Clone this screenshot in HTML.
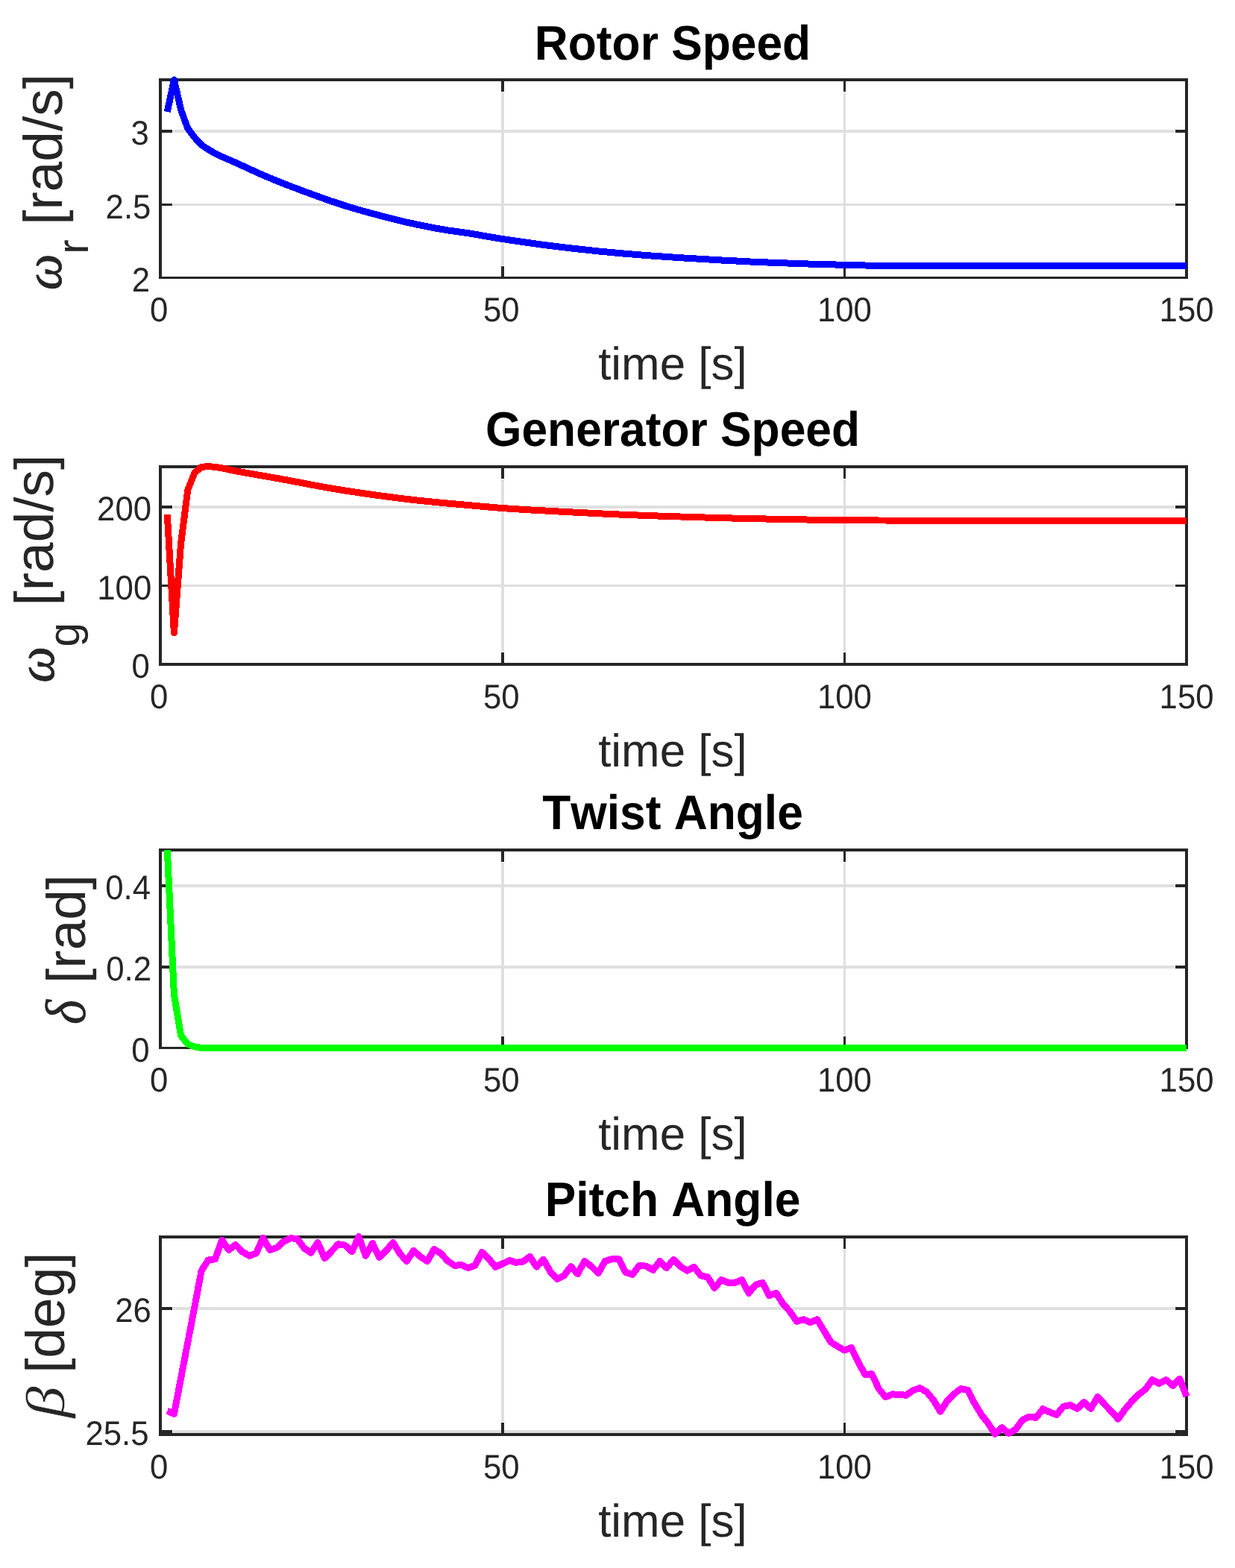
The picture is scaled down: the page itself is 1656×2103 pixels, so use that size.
<!DOCTYPE html>
<html lang="en">
<head>
<meta charset="utf-8">
<title>Wind turbine simulation</title>
<style>
html,body{margin:0;padding:0;background:#ffffff;}
body{width:1656px;height:2103px;overflow:hidden;}
svg{display:block;text-rendering:geometricPrecision;font-kerning:none;}
.t{font-family:'Liberation Sans', sans-serif;font-weight:bold;font-size:62.3px;fill:#000000;text-anchor:middle;}
.k{font-family:'Liberation Sans', sans-serif;font-size:43.75px;fill:#262626;}
.xl{font-family:'Liberation Sans', sans-serif;font-size:61.9px;fill:#262626;text-anchor:middle;}
.yl{font-family:'Liberation Sans', sans-serif;font-size:73.0px;fill:#262626;}
.ys{font-family:'Liberation Sans', sans-serif;font-size:58.5px;fill:#262626;}
.ym{font-family:'Liberation Serif', 'DejaVu Serif', serif;font-style:italic;font-size:73.5px;fill:#262626;}
.g{fill:#dfdfdf;}
.a{fill:#262626;}
.c{fill:none;stroke-width:9;stroke-linejoin:round;stroke-linecap:butt;}
</style>
</head>
<body>
<svg width="1656" height="2103" viewBox="0 0 1656 2103">
<rect x="0" y="0" width="1656" height="2103" fill="#ffffff"/>

<g id="plot1">
<g shape-rendering="crispEdges">
<rect class="g" x="672" y="124" width="4" height="232"/>
<rect class="g" x="1131" y="124" width="3" height="232"/>
<rect class="g" x="232" y="174" width="1343" height="4"/>
<rect class="g" x="232" y="273" width="1343" height="3"/>
<rect class="a" x="213" y="105" width="1380" height="4"/>
<rect class="a" x="213" y="371" width="1380" height="3"/>
<rect class="a" x="213" y="105" width="4" height="269"/>
<rect class="a" x="1589" y="105" width="4" height="269"/>
<rect class="a" x="672" y="105" width="4" height="18"/>
<rect class="a" x="672" y="357" width="4" height="17"/>
<rect class="a" x="1131" y="105" width="3" height="18"/>
<rect class="a" x="1131" y="357" width="3" height="17"/>
<rect class="a" x="213" y="174" width="18" height="4"/>
<rect class="a" x="1576" y="174" width="17" height="4"/>
<rect class="a" x="213" y="273" width="18" height="3"/>
<rect class="a" x="1576" y="273" width="17" height="3"/>
</g>
<polyline class="c" shape-rendering="crispEdges" stroke="#0000ff" points="224.3,150.0 233.4,107.0 242.6,147.3 251.8,172.4 261.0,184.5 270.1,194.5 279.3,200.4 288.5,205.9 297.7,210.2 306.8,214.1 316.0,218.2 325.2,222.4 334.4,226.6 343.5,230.8 352.7,234.9 361.9,238.8 371.0,242.5 380.2,246.2 389.4,249.8 398.6,253.2 407.7,256.7 416.9,260.0 426.1,263.4 435.3,266.7 444.4,269.9 453.6,272.9 462.8,275.9 472.0,278.7 481.1,281.4 490.3,284.0 499.5,286.5 508.6,288.9 517.8,291.3 527.0,293.6 536.2,295.9 545.3,298.1 554.5,300.1 563.7,302.1 572.9,303.9 582.0,305.7 591.2,307.3 600.4,308.9 609.6,310.2 618.7,311.4 627.9,312.8 637.1,314.3 646.2,315.9 655.4,317.5 664.6,319.0 673.8,320.5 682.9,321.9 692.1,323.2 701.3,324.6 710.5,325.9 719.6,327.2 728.8,328.4 738.0,329.6 747.2,330.7 756.3,331.8 765.5,332.9 774.7,333.9 783.8,334.9 793.0,335.9 802.2,336.9 811.4,337.8 820.5,338.6 829.7,339.5 838.9,340.3 848.1,341.0 857.2,341.8 866.4,342.5 875.6,343.2 884.8,343.8 893.9,344.5 903.1,345.1 912.3,345.7 921.4,346.3 930.6,346.8 939.8,347.4 949.0,347.9 958.1,348.4 967.3,349.0 976.5,349.5 985.7,349.9 994.8,350.4 1004.0,350.9 1013.2,351.3 1022.4,351.7 1031.5,352.1 1040.7,352.4 1049.9,352.8 1059.0,353.1 1068.2,353.5 1077.4,353.8 1086.6,354.1 1095.7,354.3 1104.9,354.6 1114.1,354.8 1123.3,355.1 1132.4,355.3 1141.6,355.5 1150.8,355.8 1160.0,356.0 1169.1,356.2 1178.3,356.3 1187.5,356.3 1196.6,356.4 1205.8,356.4 1215.0,356.5 1224.2,356.5 1233.3,356.5 1242.5,356.5 1251.7,356.5 1260.9,356.5 1270.0,356.5 1279.2,356.5 1288.4,356.5 1297.6,356.5 1306.7,356.5 1315.9,356.5 1325.1,356.5 1334.2,356.5 1343.4,356.5 1352.6,356.5 1361.8,356.5 1370.9,356.5 1380.1,356.5 1389.3,356.5 1398.5,356.5 1407.6,356.5 1416.8,356.5 1426.0,356.5 1435.2,356.5 1444.3,356.5 1453.5,356.5 1462.7,356.5 1471.8,356.5 1481.0,356.5 1490.2,356.5 1499.4,356.5 1508.5,356.5 1517.7,356.5 1526.9,356.5 1536.1,356.5 1545.2,356.5 1554.4,356.5 1563.6,356.5 1572.8,356.5 1581.9,356.5 1591.1,356.5"/>
<text class="t" id="title1" transform="translate(902 79.8) scale(1 1.046)">Rotor Speed</text>
<text class="k" id="xt1_0" text-anchor="middle" transform="translate(213.2 431.3) scale(1 1.045)">0</text>
<text class="k" id="xt1_50" text-anchor="middle" transform="translate(672.27 431.3) scale(1 1.045)">50</text>
<text class="k" id="xt1_100" text-anchor="middle" transform="translate(1132.43 431.3) scale(1 1.045)">100</text>
<text class="k" id="xt1_150" text-anchor="middle" transform="translate(1591.1 431.3) scale(1 1.045)">150</text>
<text class="k" id="yt1_0" text-anchor="end" transform="translate(199.8 194.3) scale(1 1.045)">3</text>
<text class="k" id="yt1_1" text-anchor="end" transform="translate(202.4 292.5) scale(1 1.045)">2.5</text>
<text class="k" id="yt1_2" text-anchor="end" transform="translate(201 390.7) scale(1 1.045)">2</text>
<text class="xl" id="xl1" x="901.9" y="509.3">time [s]</text>
<text class="ym" id="sym1" stroke="#262626" stroke-width="0.9" transform="translate(82.33 389.05) rotate(-90) scale(0.93 0.965)">ω</text>
<text class="ys" id="sub1" transform="translate(117.75 340.85) rotate(-90)">r</text>
<text class="yl" id="unit1" transform="translate(82.51 301.85) rotate(-90)">[rad/s]</text>
</g>
</g>
<g id="plot2">
<g shape-rendering="crispEdges">
<rect class="g" x="672" y="643" width="4" height="231"/>
<rect class="g" x="1131" y="643" width="3" height="231"/>
<rect class="g" x="232" y="678" width="1343" height="4"/>
<rect class="g" x="232" y="784" width="1343" height="3"/>
<rect class="a" x="213" y="624" width="1380" height="4"/>
<rect class="a" x="213" y="889" width="1380" height="4"/>
<rect class="a" x="213" y="624" width="4" height="269"/>
<rect class="a" x="1589" y="624" width="4" height="269"/>
<rect class="a" x="672" y="624" width="4" height="18"/>
<rect class="a" x="672" y="875" width="4" height="18"/>
<rect class="a" x="1131" y="624" width="3" height="18"/>
<rect class="a" x="1131" y="875" width="3" height="18"/>
<rect class="a" x="213" y="678" width="18" height="4"/>
<rect class="a" x="1576" y="678" width="17" height="4"/>
<rect class="a" x="213" y="784" width="18" height="3"/>
<rect class="a" x="1576" y="784" width="17" height="3"/>
</g>
<polyline class="c" shape-rendering="crispEdges" stroke="#ff0000" points="224.3,690.0 233.4,849.0 242.6,728.7 251.8,657.0 261.0,634.1 270.1,626.3 279.3,625.7 288.5,626.3 297.7,627.8 306.8,629.8 316.0,631.8 325.2,633.4 334.4,635.0 343.5,636.6 352.7,638.2 361.9,639.8 371.0,641.4 380.2,643.1 389.4,644.8 398.6,646.5 407.7,648.3 416.9,650.0 426.1,651.8 435.3,653.4 444.4,655.0 453.6,656.5 462.8,658.0 472.0,659.4 481.1,660.8 490.3,662.1 499.5,663.4 508.6,664.7 517.8,665.9 527.0,667.1 536.2,668.3 545.3,669.4 554.5,670.5 563.7,671.5 572.9,672.4 582.0,673.3 591.2,674.2 600.4,675.1 609.6,675.9 618.7,676.7 627.9,677.5 637.1,678.4 646.2,679.2 655.4,680.0 664.6,680.8 673.8,681.5 682.9,682.2 692.1,682.8 701.3,683.3 710.5,683.9 719.6,684.4 728.8,684.9 738.0,685.4 747.2,685.9 756.3,686.4 765.5,686.9 774.7,687.3 783.8,687.8 793.0,688.3 802.2,688.7 811.4,689.2 820.5,689.6 829.7,690.0 838.9,690.3 848.1,690.7 857.2,691.1 866.4,691.4 875.6,691.8 884.8,692.1 893.9,692.4 903.1,692.7 912.3,693.0 921.4,693.3 930.6,693.6 939.8,693.9 949.0,694.1 958.1,694.4 967.3,694.6 976.5,694.9 985.7,695.1 994.8,695.3 1004.0,695.5 1013.2,695.7 1022.4,695.9 1031.5,696.1 1040.7,696.3 1049.9,696.4 1059.0,696.6 1068.2,696.8 1077.4,696.9 1086.6,697.1 1095.7,697.2 1104.9,697.3 1114.1,697.4 1123.3,697.5 1132.4,697.6 1141.6,697.7 1150.8,697.7 1160.0,697.8 1169.1,697.9 1178.3,698.0 1187.5,698.0 1196.6,698.1 1205.8,698.1 1215.0,698.2 1224.2,698.2 1233.3,698.2 1242.5,698.2 1251.7,698.2 1260.9,698.2 1270.0,698.2 1279.2,698.2 1288.4,698.2 1297.6,698.2 1306.7,698.2 1315.9,698.2 1325.1,698.2 1334.2,698.3 1343.4,698.3 1352.6,698.3 1361.8,698.3 1370.9,698.3 1380.1,698.3 1389.3,698.3 1398.5,698.3 1407.6,698.3 1416.8,698.3 1426.0,698.3 1435.2,698.3 1444.3,698.3 1453.5,698.3 1462.7,698.3 1471.8,698.3 1481.0,698.3 1490.2,698.3 1499.4,698.3 1508.5,698.3 1517.7,698.3 1526.9,698.3 1536.1,698.3 1545.2,698.3 1554.4,698.3 1563.6,698.3 1572.8,698.3 1581.9,698.3 1591.1,698.3"/>
<text class="t" id="title2" transform="translate(902 597.8) scale(1 1.046)">Generator Speed</text>
<text class="k" id="xt2_0" text-anchor="middle" transform="translate(213.2 949.8) scale(1 1.045)">0</text>
<text class="k" id="xt2_50" text-anchor="middle" transform="translate(672.27 949.8) scale(1 1.045)">50</text>
<text class="k" id="xt2_100" text-anchor="middle" transform="translate(1132.43 949.8) scale(1 1.045)">100</text>
<text class="k" id="xt2_150" text-anchor="middle" transform="translate(1591.1 949.8) scale(1 1.045)">150</text>
<text class="k" id="yt2_0" text-anchor="end" transform="translate(203.1 698.2) scale(1 1.045)">200</text>
<text class="k" id="yt2_1" text-anchor="end" transform="translate(203.25 803.8) scale(1 1.045)">100</text>
<text class="k" id="yt2_2" text-anchor="end" transform="translate(200.8 909.2) scale(1 1.045)">0</text>
<text class="xl" id="xl2" x="901.9" y="1027.8">time [s]</text>
<text class="ym" id="sym2" stroke="#262626" stroke-width="0.9" transform="translate(71.99 915.59) rotate(-90) scale(0.93 0.965)">ω</text>
<text class="ys" id="sub2" transform="translate(106.02 867.54) rotate(-90)">g</text>
<text class="yl" id="unit2" transform="translate(70.96 812.5) rotate(-90)">[rad/s]</text>
</g>
</g>
<g id="plot3">
<g shape-rendering="crispEdges">
<rect class="g" x="672" y="1157" width="4" height="232"/>
<rect class="g" x="1131" y="1157" width="3" height="232"/>
<rect class="g" x="232" y="1186" width="1343" height="4"/>
<rect class="g" x="232" y="1295" width="1343" height="4"/>
<rect class="a" x="213" y="1138" width="1380" height="4"/>
<rect class="a" x="213" y="1404" width="1380" height="3"/>
<rect class="a" x="213" y="1138" width="4" height="269"/>
<rect class="a" x="1589" y="1138" width="4" height="269"/>
<rect class="a" x="672" y="1138" width="4" height="18"/>
<rect class="a" x="672" y="1390" width="4" height="17"/>
<rect class="a" x="1131" y="1138" width="3" height="18"/>
<rect class="a" x="1131" y="1390" width="3" height="17"/>
<rect class="a" x="213" y="1186" width="18" height="4"/>
<rect class="a" x="1576" y="1186" width="17" height="4"/>
<rect class="a" x="213" y="1295" width="18" height="4"/>
<rect class="a" x="1576" y="1295" width="17" height="4"/>
</g>
<polyline class="c" shape-rendering="crispEdges" stroke="#00ff00" points="224.3,1140.0 233.4,1333.4 242.6,1389.0 251.8,1400.4 261.0,1404.0 270.1,1405.4 279.3,1405.5 288.5,1405.5 297.7,1405.5 306.8,1405.5 316.0,1405.5 325.2,1405.5 334.4,1405.5 343.5,1405.5 352.7,1405.5 361.9,1405.5 371.0,1405.5 380.2,1405.5 389.4,1405.5 398.6,1405.5 407.7,1405.5 416.9,1405.5 426.1,1405.5 435.3,1405.5 444.4,1405.5 453.6,1405.5 462.8,1405.5 472.0,1405.5 481.1,1405.5 490.3,1405.5 499.5,1405.5 508.6,1405.5 517.8,1405.5 527.0,1405.5 536.2,1405.5 545.3,1405.5 554.5,1405.5 563.7,1405.5 572.9,1405.5 582.0,1405.5 591.2,1405.5 600.4,1405.5 609.6,1405.5 618.7,1405.5 627.9,1405.5 637.1,1405.5 646.2,1405.5 655.4,1405.5 664.6,1405.5 673.8,1405.5 682.9,1405.5 692.1,1405.5 701.3,1405.5 710.5,1405.5 719.6,1405.5 728.8,1405.5 738.0,1405.5 747.2,1405.5 756.3,1405.5 765.5,1405.5 774.7,1405.5 783.8,1405.5 793.0,1405.5 802.2,1405.5 811.4,1405.5 820.5,1405.5 829.7,1405.5 838.9,1405.5 848.1,1405.5 857.2,1405.5 866.4,1405.5 875.6,1405.5 884.8,1405.5 893.9,1405.5 903.1,1405.5 912.3,1405.5 921.4,1405.5 930.6,1405.5 939.8,1405.5 949.0,1405.5 958.1,1405.5 967.3,1405.5 976.5,1405.5 985.7,1405.5 994.8,1405.5 1004.0,1405.5 1013.2,1405.5 1022.4,1405.5 1031.5,1405.5 1040.7,1405.5 1049.9,1405.5 1059.0,1405.5 1068.2,1405.5 1077.4,1405.5 1086.6,1405.5 1095.7,1405.5 1104.9,1405.5 1114.1,1405.5 1123.3,1405.5 1132.4,1405.5 1141.6,1405.5 1150.8,1405.5 1160.0,1405.5 1169.1,1405.5 1178.3,1405.5 1187.5,1405.5 1196.6,1405.5 1205.8,1405.5 1215.0,1405.5 1224.2,1405.5 1233.3,1405.5 1242.5,1405.5 1251.7,1405.5 1260.9,1405.5 1270.0,1405.5 1279.2,1405.5 1288.4,1405.5 1297.6,1405.5 1306.7,1405.5 1315.9,1405.5 1325.1,1405.5 1334.2,1405.5 1343.4,1405.5 1352.6,1405.5 1361.8,1405.5 1370.9,1405.5 1380.1,1405.5 1389.3,1405.5 1398.5,1405.5 1407.6,1405.5 1416.8,1405.5 1426.0,1405.5 1435.2,1405.5 1444.3,1405.5 1453.5,1405.5 1462.7,1405.5 1471.8,1405.5 1481.0,1405.5 1490.2,1405.5 1499.4,1405.5 1508.5,1405.5 1517.7,1405.5 1526.9,1405.5 1536.1,1405.5 1545.2,1405.5 1554.4,1405.5 1563.6,1405.5 1572.8,1405.5 1581.9,1405.5 1591.1,1405.5"/>
<text class="t" id="title3" transform="translate(902 1111.8) scale(1 1.046)">Twist Angle</text>
<text class="k" id="xt3_0" text-anchor="middle" transform="translate(213.2 1464.3) scale(1 1.045)">0</text>
<text class="k" id="xt3_50" text-anchor="middle" transform="translate(672.27 1464.3) scale(1 1.045)">50</text>
<text class="k" id="xt3_100" text-anchor="middle" transform="translate(1132.43 1464.3) scale(1 1.045)">100</text>
<text class="k" id="xt3_150" text-anchor="middle" transform="translate(1591.1 1464.3) scale(1 1.045)">150</text>
<text class="k" id="yt3_0" text-anchor="end" transform="translate(202 1206.2) scale(1 1.045)">0.4</text>
<text class="k" id="yt3_1" text-anchor="end" transform="translate(203 1315.2) scale(1 1.045)">0.2</text>
<text class="k" id="yt3_2" text-anchor="end" transform="translate(200.6 1423.7) scale(1 1.045)">0</text>
<text class="xl" id="xl3" x="901.9" y="1542.3">time [s]</text>
<text class="ym" id="sym3" stroke="#262626" stroke-width="0.5" transform="translate(114.09 1373.94) rotate(-90) scale(0.965 1.04)">δ</text>
<text class="yl" id="unit3" transform="translate(114.21 1318.96) rotate(-90)">[rad]</text>
</g>
</g>
<g id="plot4">
<g shape-rendering="crispEdges">
<rect class="g" x="672" y="1676" width="4" height="231"/>
<rect class="g" x="1131" y="1676" width="3" height="231"/>
<rect class="g" x="232" y="1753" width="1343" height="4"/>
<rect class="g" x="232" y="1918" width="1343" height="4"/>
<rect class="a" x="213" y="1657" width="1380" height="4"/>
<rect class="a" x="213" y="1922" width="1380" height="4"/>
<rect class="a" x="213" y="1657" width="4" height="269"/>
<rect class="a" x="1589" y="1657" width="4" height="269"/>
<rect class="a" x="672" y="1657" width="4" height="18"/>
<rect class="a" x="672" y="1908" width="4" height="18"/>
<rect class="a" x="1131" y="1657" width="3" height="18"/>
<rect class="a" x="1131" y="1908" width="3" height="18"/>
<rect class="a" x="213" y="1753" width="18" height="4"/>
<rect class="a" x="1576" y="1753" width="17" height="4"/>
<rect class="a" x="213" y="1918" width="18" height="4"/>
<rect class="a" x="1576" y="1918" width="17" height="4"/>
</g>
<polyline class="c" shape-rendering="crispEdges" stroke="#ff00ff" points="224.3,1892.0 233.4,1896.4 242.6,1848.4 251.8,1800.3 261.0,1752.3 270.1,1704.3 279.3,1689.9 288.5,1688.8 297.7,1663.2 306.8,1676.4 316.0,1669.4 325.2,1679.0 334.4,1684.3 343.5,1681.0 352.7,1660.3 361.9,1676.4 371.0,1673.6 380.2,1665.2 389.4,1660.6 398.6,1661.6 407.7,1673.9 416.9,1680.3 426.1,1666.5 435.3,1687.5 444.4,1678.3 453.6,1668.6 462.8,1670.3 472.0,1678.6 481.1,1658.6 490.3,1684.3 499.5,1667.5 508.6,1686.4 517.8,1677.5 527.0,1666.5 536.2,1681.2 545.3,1691.6 554.5,1677.4 563.7,1685.5 572.9,1691.6 582.0,1675.5 591.2,1681.2 600.4,1691.3 609.6,1697.4 618.7,1696.5 627.9,1700.6 637.1,1697.1 646.2,1679.4 655.4,1688.4 664.6,1699.4 673.8,1694.9 682.9,1690.4 692.1,1693.3 701.3,1692.0 710.5,1685.4 719.6,1699.1 728.8,1689.3 738.0,1705.8 747.2,1715.4 756.3,1710.9 765.5,1698.7 774.7,1708.6 783.8,1691.4 793.0,1698.6 802.2,1707.5 811.4,1691.3 820.5,1688.8 829.7,1688.6 838.9,1706.5 848.1,1709.3 857.2,1697.5 866.4,1698.1 875.6,1703.5 884.8,1691.4 893.9,1700.6 903.1,1689.3 912.3,1698.6 921.4,1704.2 930.6,1699.4 939.8,1710.9 949.0,1713.0 958.1,1727.4 967.3,1716.5 976.5,1720.3 985.7,1720.3 994.8,1716.5 1004.0,1734.3 1013.2,1723.2 1022.4,1720.4 1031.5,1737.5 1040.7,1734.2 1049.9,1748.6 1059.0,1758.7 1068.2,1772.3 1077.4,1769.7 1086.6,1773.5 1095.7,1769.8 1104.9,1784.9 1114.1,1800.1 1123.3,1805.9 1132.4,1811.0 1141.6,1807.5 1150.8,1827.0 1160.0,1843.5 1169.1,1842.8 1178.3,1862.5 1187.5,1873.9 1196.6,1869.9 1205.8,1870.4 1215.0,1871.3 1224.2,1864.9 1233.3,1861.6 1242.5,1866.8 1251.7,1877.7 1260.9,1893.2 1270.0,1879.1 1279.2,1869.7 1288.4,1862.6 1297.6,1864.3 1306.7,1882.0 1315.9,1897.4 1325.1,1909.0 1334.2,1923.3 1343.4,1914.7 1352.6,1922.4 1361.8,1917.2 1370.9,1904.6 1380.1,1900.0 1389.3,1901.4 1398.5,1889.6 1407.6,1894.0 1416.8,1897.4 1426.0,1886.3 1435.2,1884.5 1444.3,1889.3 1453.5,1880.6 1462.7,1889.3 1471.8,1873.4 1481.0,1883.4 1490.2,1893.0 1499.4,1903.2 1508.5,1890.1 1517.7,1879.5 1526.9,1870.3 1536.1,1863.1 1545.2,1850.7 1554.4,1855.5 1563.6,1850.7 1572.8,1858.4 1581.9,1849.4 1591.1,1873.0"/>
<text class="t" id="title4" transform="translate(902 1630.8) scale(1 1.046)">Pitch Angle</text>
<text class="k" id="xt4_0" text-anchor="middle" transform="translate(213.2 1982.8) scale(1 1.045)">0</text>
<text class="k" id="xt4_50" text-anchor="middle" transform="translate(672.27 1982.8) scale(1 1.045)">50</text>
<text class="k" id="xt4_100" text-anchor="middle" transform="translate(1132.43 1982.8) scale(1 1.045)">100</text>
<text class="k" id="xt4_150" text-anchor="middle" transform="translate(1591.1 1982.8) scale(1 1.045)">150</text>
<text class="k" id="yt4_0" text-anchor="end" transform="translate(202.8 1773.1) scale(1 1.045)">26</text>
<text class="k" id="yt4_1" text-anchor="end" transform="translate(199.6 1938.2) scale(1 1.045)">25.5</text>
<text class="xl" id="xl4" x="901.9" y="2060.8">time [s]</text>
<text class="ym" id="sym4" stroke="#ffffff" stroke-width="0.5" transform="translate(85.51 1901.83) rotate(-90) scale(1.16 1.0)">β</text>
<text class="yl" id="unit4" transform="translate(85.51 1841.8) rotate(-90)">[deg]</text>
</g>
</g>
</svg>
</body>
</html>
